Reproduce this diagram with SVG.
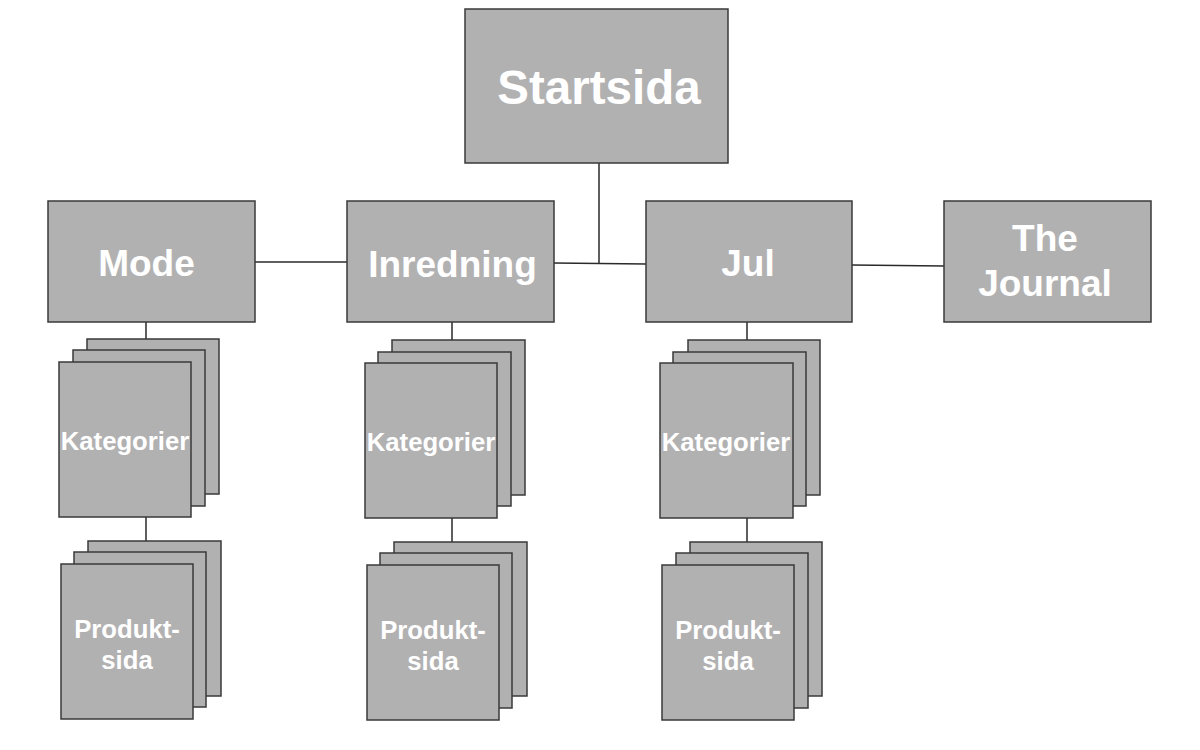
<svg xmlns="http://www.w3.org/2000/svg" width="1200" height="750" viewBox="0 0 1200 750">
<style>
.box{fill:#b2b1b2;stroke:#3a3a3a;stroke-width:1.5}
.ln{stroke:#2a2a2a;stroke-width:1.5;fill:none}
.t{font-family:"Liberation Sans",Arial,sans-serif;font-weight:bold;fill:#ffffff;text-anchor:middle}
.big{font-size:47.5px}
.mid{font-size:37px}
.sm{font-size:25.7px}
</style>
<rect width="1200" height="750" fill="#ffffff"/>
<g id="connectors">
<line class="ln" x1="255" y1="262" x2="347" y2="262"/>
<line class="ln" x1="554" y1="263" x2="646" y2="264"/>
<line class="ln" x1="599" y1="163" x2="599" y2="264"/>
<line class="ln" x1="852" y1="265" x2="944" y2="266"/>
<line class="ln" x1="146" y1="322" x2="146" y2="350"/>
<line class="ln" x1="146" y1="517" x2="146" y2="552"/>
<line class="ln" x1="452" y1="322" x2="452" y2="352"/>
<line class="ln" x1="452" y1="518" x2="452" y2="553"/>
<line class="ln" x1="747" y1="322" x2="747" y2="352"/>
<line class="ln" x1="747" y1="518" x2="747" y2="553"/>
</g>
<g id="startsida">
<rect class="box" x="465" y="9" width="263" height="154"/>
<text class="t big" x="599" y="104">Startsida</text>
</g>
<g id="mode">
<rect class="box" x="48" y="201" width="207" height="121"/>
<text class="t mid" x="146.5" y="276">Mode</text>
</g>
<g id="inredning">
<rect class="box" x="347" y="201" width="207" height="121"/>
<text class="t mid" x="452.5" y="277">Inredning</text>
</g>
<g id="jul">
<rect class="box" x="646" y="201" width="206" height="121"/>
<text class="t mid" x="748" y="276">Jul</text>
</g>
<g id="the-journal">
<rect class="box" x="944" y="201" width="207" height="121"/>
<text class="t mid" x="1045" y="251">The</text>
<text class="t mid" x="1045" y="296">Journal</text>
</g>
<g id="mode-kategorier">
<rect class="box" x="87" y="339" width="132" height="155"/>
<rect class="box" x="73" y="350" width="132" height="156"/>
<rect class="box" x="59" y="362" width="132" height="155"/>
<text class="t sm" x="125" y="450">Kategorier</text>
</g>
<g id="mode-produktsida">
<rect class="box" x="88" y="541" width="133" height="155"/>
<rect class="box" x="74" y="552" width="132" height="155"/>
<rect class="box" x="61" y="564" width="132" height="155"/>
<text class="t sm" x="127" y="638">Produkt-</text>
<text class="t sm" x="127" y="669">sida</text>
</g>
<g id="inredning-kategorier">
<rect class="box" x="392" y="340" width="133" height="155"/>
<rect class="box" x="378" y="352" width="133" height="154"/>
<rect class="box" x="365" y="363" width="132" height="155"/>
<text class="t sm" x="431" y="451">Kategorier</text>
</g>
<g id="inredning-produktsida">
<rect class="box" x="394" y="542" width="133" height="154"/>
<rect class="box" x="380" y="553" width="132" height="155"/>
<rect class="box" x="367" y="565" width="132" height="155"/>
<text class="t sm" x="433" y="639">Produkt-</text>
<text class="t sm" x="433" y="670">sida</text>
</g>
<g id="jul-kategorier">
<rect class="box" x="688" y="340" width="132" height="155"/>
<rect class="box" x="673" y="352" width="133" height="154"/>
<rect class="box" x="660" y="363" width="133" height="155"/>
<text class="t sm" x="726" y="451">Kategorier</text>
</g>
<g id="jul-produktsida">
<rect class="box" x="690" y="542" width="132" height="154"/>
<rect class="box" x="676" y="553" width="132" height="155"/>
<rect class="box" x="662" y="565" width="132" height="155"/>
<text class="t sm" x="728" y="639">Produkt-</text>
<text class="t sm" x="728" y="670">sida</text>
</g>
</svg>
